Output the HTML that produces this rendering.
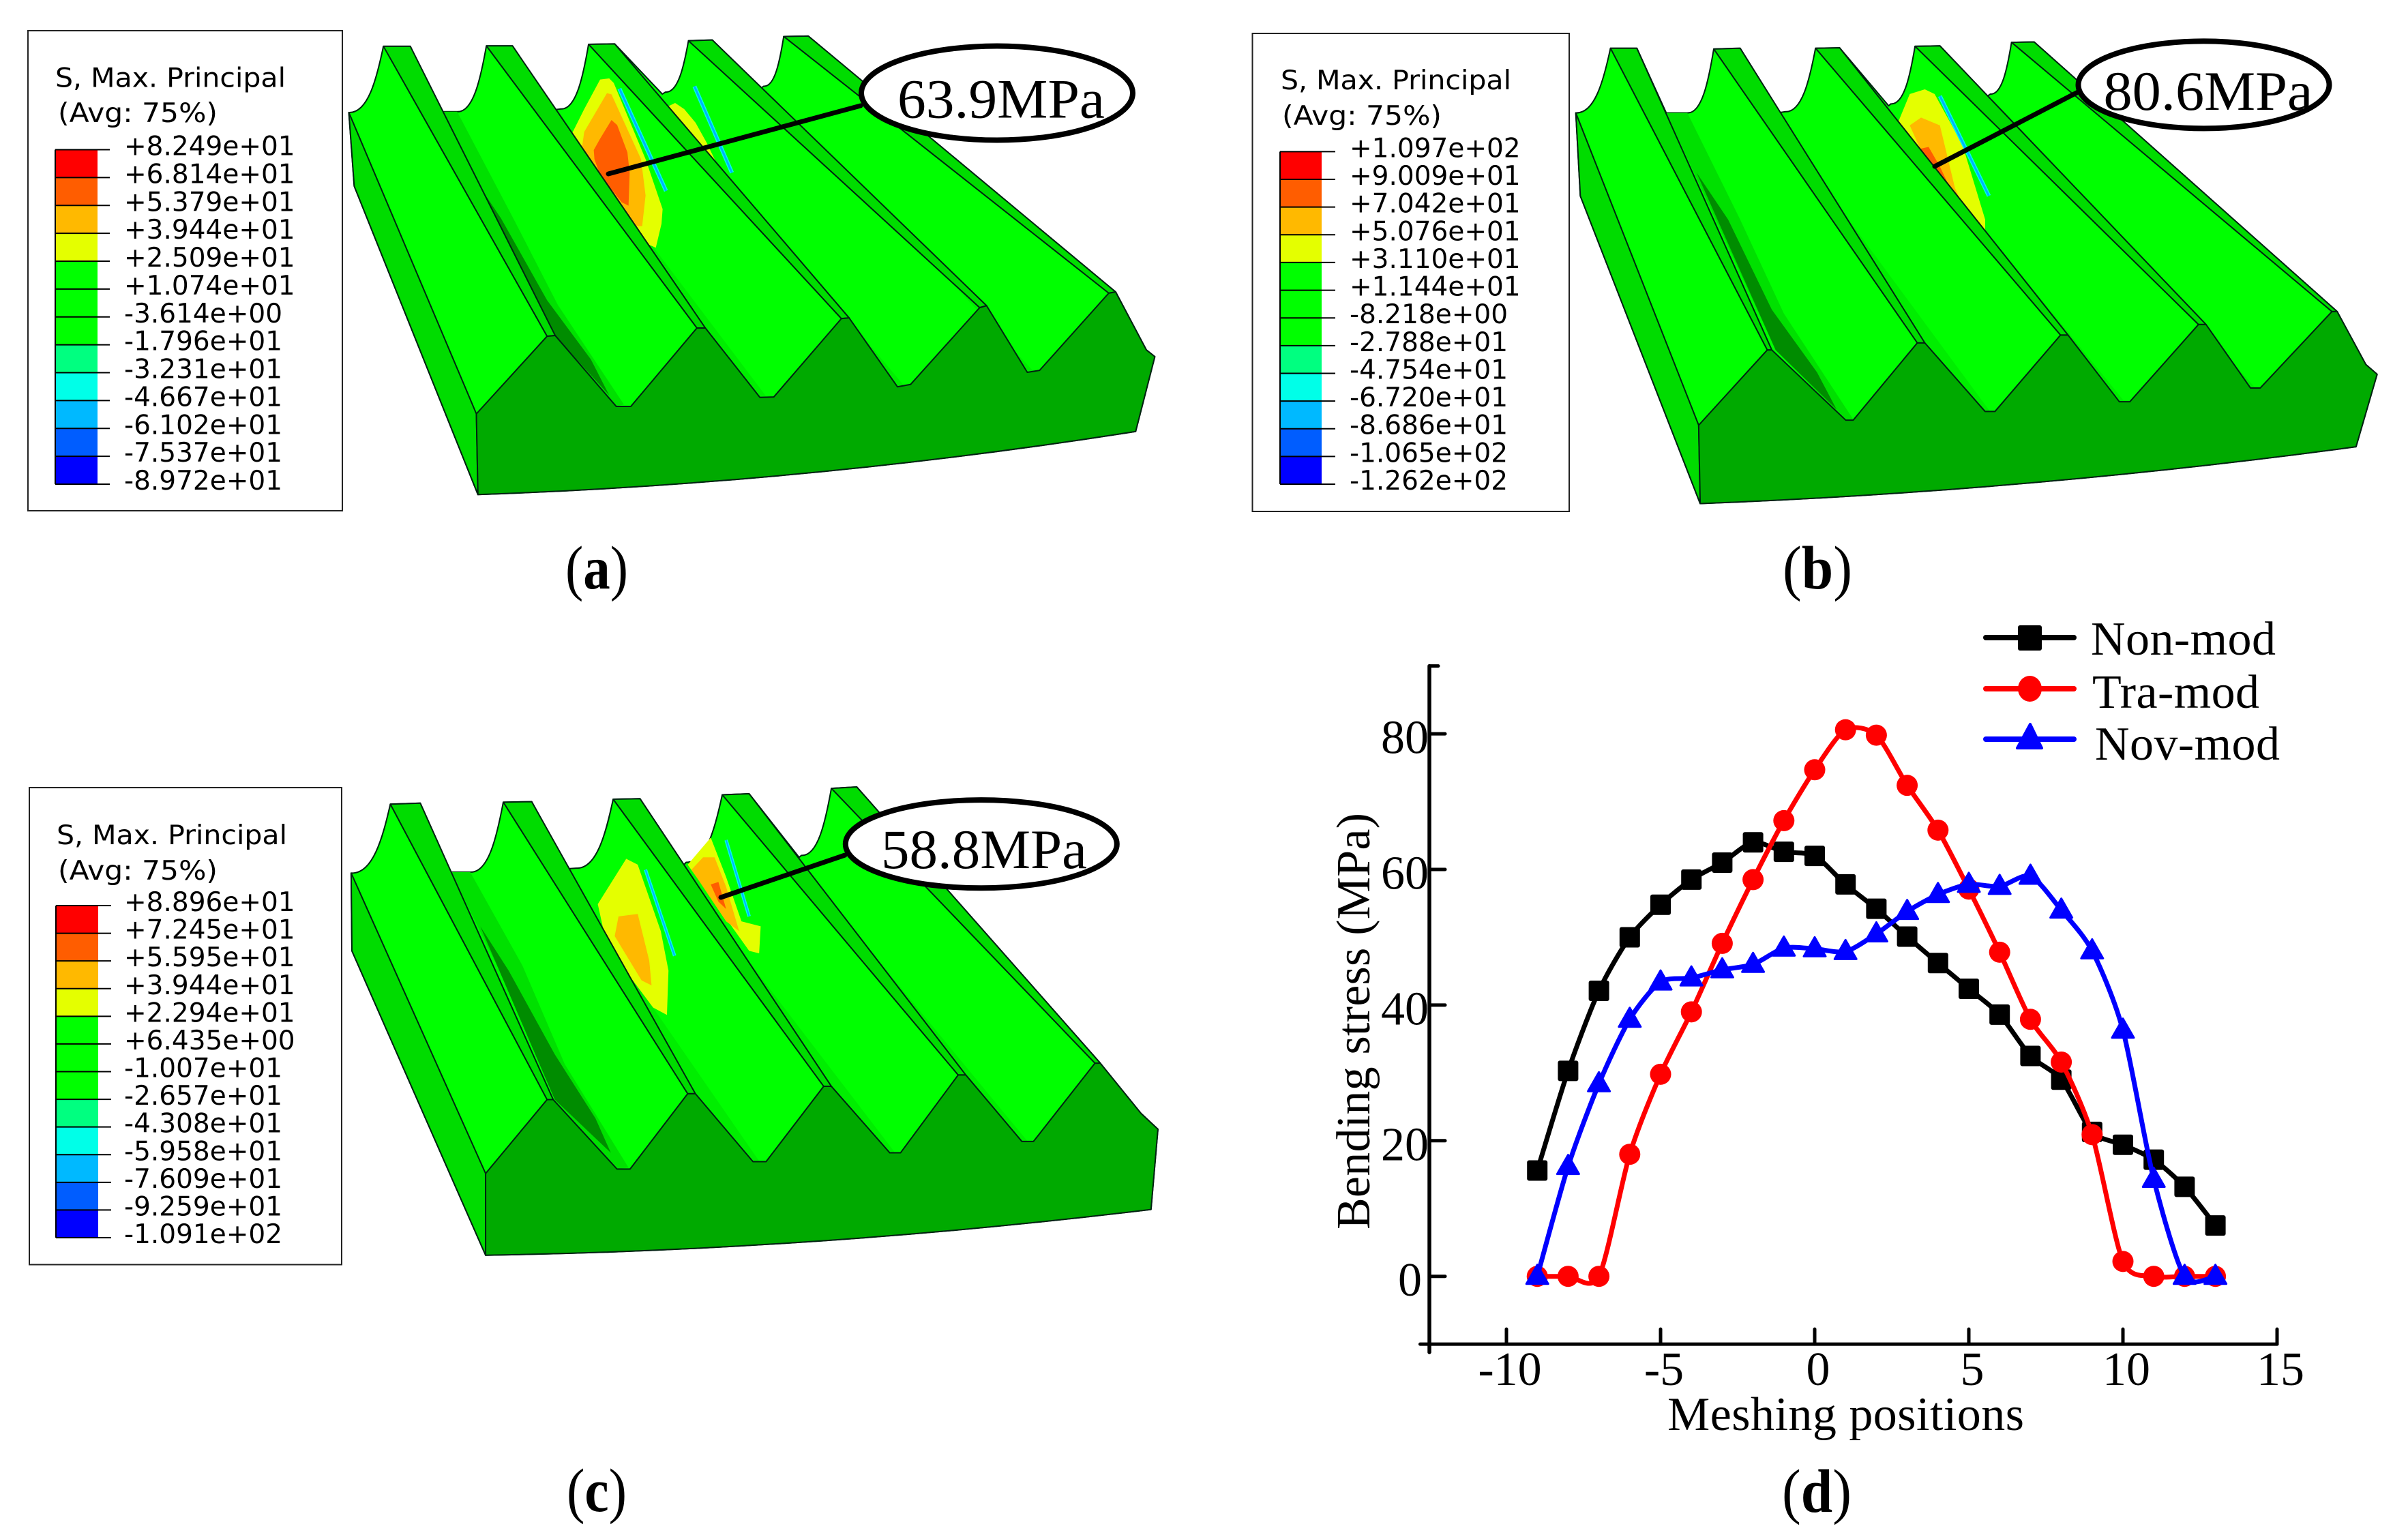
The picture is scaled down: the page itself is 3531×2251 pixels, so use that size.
<!DOCTYPE html>
<html lang="en">
<head>
<meta charset="utf-8">
<title>Bending stress contours and meshing position chart</title>
<style>
html,body{margin:0;padding:0;background:#fff;}
svg{display:block;}
text{font-family:"Liberation Serif",serif;fill:#000;}
.abq{font-family:"DejaVu Sans",sans-serif;font-size:39px;}
</style>
</head>
<body>
<svg id="fig" xmlns="http://www.w3.org/2000/svg" width="3531" height="2251" viewBox="0 0 3531 2251">
  <rect x="0" y="0" width="3531" height="2251" fill="#fff"/>
  <g id="panels"></g>
  <g id="chart"></g>
  <text x="875" y="863" font-size="90" text-anchor="middle" textLength="92" lengthAdjust="spacingAndGlyphs">(<tspan font-weight="bold">a</tspan>)</text>
  <text x="2665" y="863" font-size="90" text-anchor="middle" textLength="102" lengthAdjust="spacingAndGlyphs">(<tspan font-weight="bold">b</tspan>)</text>
  <text x="875" y="2216" font-size="90" text-anchor="middle" textLength="88" lengthAdjust="spacingAndGlyphs">(<tspan font-weight="bold">c</tspan>)</text>
  <text x="2664" y="2217" font-size="90" text-anchor="middle" textLength="102" lengthAdjust="spacingAndGlyphs">(<tspan font-weight="bold">d</tspan>)</text>
</svg>
<script>
// ---------- Chart data (panel d) ----------
var categories = [-9,-8,-7,-6,-5,-4,-3,-2,-1,0,1,2,3,4,5,6,7,8,9,10,11,12,13];
var nonMod = [15.6,30.3,42.1,50,54.8,58.5,61,64,62.6,62,57.8,54.2,50.1,46.2,42.4,38.6,32.5,29,21.3,19.4,17.2,13.2,7.5];
var traMod = [0,0,0,18,29.8,39,49.1,58.5,67.2,74.7,80.6,79.8,72.4,65.8,57.1,47.8,37.9,31.6,20.9,2.2,0,0,0];
var novMod = [0,16.2,28.4,37.9,43.4,44,45.2,46,48.4,48.3,47.9,50.5,53.8,56.3,57.8,57.5,59,54,48,36.3,14.3,0,0];
var xTickValues = [-10,-5,0,5,10,15];
var xTickLabels = ["-10","-5","0","5","10","15"];
var yTickValues = [0,20,40,60,80];
var yTickLabels = ["0","20","40","60","80"];

// ---------- Contour legend labels ----------
var legendLabelsA = ["+8.249e+01","+6.814e+01","+5.379e+01","+3.944e+01","+2.509e+01","+1.074e+01","-3.614e+00","-1.796e+01","-3.231e+01","-4.667e+01","-6.102e+01","-7.537e+01","-8.972e+01"];
var legendLabelsB = ["+1.097e+02","+9.009e+01","+7.042e+01","+5.076e+01","+3.110e+01","+1.144e+01","-8.218e+00","-2.788e+01","-4.754e+01","-6.720e+01","-8.686e+01","-1.065e+02","-1.262e+02"];
var legendLabelsC = ["+8.896e+01","+7.245e+01","+5.595e+01","+3.944e+01","+2.294e+01","+6.435e+00","-1.007e+01","-2.657e+01","-4.308e+01","-5.958e+01","-7.609e+01","-9.259e+01","-1.091e+02"];
var bandColors = ["#ff0000","#ff5d00","#ffb900","#e4ff00","#00ff00","#00ff00","#00ff00","#00ff80","#00ffe8","#00b9ff","#005dff","#0000ff"];

var NS = "http://www.w3.org/2000/svg";
function mk(parent, tag, attrs, txt){
  var e = document.createElementNS(NS, tag);
  for (var k in attrs) e.setAttribute(k, attrs[k]);
  if (txt !== undefined) e.textContent = txt;
  parent.appendChild(e);
  return e;
}
function pts(a){ return a.map(function(p){return p[0]+","+p[1];}).join(" "); }

// ---------- Gear illustrations (coordinates in panel-local units) ----------
var gearA = {
  id:"a", tf:"scale(1.1267 0.5747)",
  tips:[[499,118,534,118],[633,117,667,117],[766,113,800,112],[896,104,927,102],[1020,93,1052,92]],
  backRoots:[[454,287,454,287],[572,285,595,285],[722,280,730,278],[862,240,866,235],[990,225,994,220]],
  frontTips:[[712,858,722.5,856],[907,837,918,837],[1095,813,1105,811],[1275,785,1284,780],[1443,748,1452,745]],
  frontRoots:[[802,1037,821,1037],[989,1014,1007,1013],[1168,987,1185,981],[1337,950,1353,945]],
  leftTop:[620,1056], leftMid:[461,475], bottomLeft:[622,1262],
  right:[[1492,893],[1503,910],[1478,1101]], ctrl:[1050,1233],
  band:[[572,285],[595,285],[668,557],[726,778],[812,1032],[802,1037],[721,853],[639,557]],
  shadow:[[612,440],[652,557],[712,766],[769,917],[793,1009],[721,853]],
  contourTf:"translate(780 80) scale(0.3333)",
  contours:[
    ["#e4ff00",[[300,110],[340,105],[360,125],[500,460],[575,680],[570,745],[545,850],[500,830],[175,350],[230,240]]],
    ["#ffb900",[[330,170],[350,175],[480,460],[500,620],[485,755],[450,755],[220,410],[230,340]]],
    ["#ff5d00",[[350,288],[375,310],[420,430],[430,520],[425,665],[395,650],[300,530],[275,460],[272,420],[300,370]]],
    ["#e4ff00",[[595,230],[630,213],[670,240],[720,300],[770,390],[820,495],[800,480],[700,350]]]
  ],
  strips:[[385,150,590,600],[715,140,880,520]],
  stripOuter:6, stripInner:3,
  box:[41,45,502,749], bar:[81,143,161,219.5,710], labelX:182, labels:legendLabelsA,
  title:[81,127.6,85,179],
  ellipse:[1462,136.5,199,69], leader:[892,255,1262,155],
  value:"63.9MPa", valuePos:[1316,172.4,304]
};
var gearB = {
  id:"b", tf:"translate(1800 0) scale(1.1054 0.5747)",
  tips:[[508,123,543,123],[645,125,680,123],[780,123,812,122],[912,118,945,117],[1040,108,1070,107]],
  backRoots:[[462,288,462,288],[582,288,610,288],[733,287,740,285],[877,270,880,265],[1008,245,1012,240]],
  frontTips:[[716,893,722,893],[915,875,925,875],[1105,855,1115,855],[1288,828,1298,828],[1465,795,1472,795]],
  frontRoots:[[820,1072,830,1072],[1005,1050,1018,1050],[1183,1025,1197,1025],[1357,990,1370,990]],
  leftTop:[625,1085], leftMid:[468,500], bottomLeft:[627,1285],
  right:[[1510,930],[1525,955],[1497,1140]], ctrl:[1062,1253],
  band:[[582,288],[610,288],[680,560],[738,800],[830,1070],[820,1072],[727,893],[650,570]],
  shadow:[[622,440],[664,560],[722,790],[782,950],[808,1045],[727,893]],
  contourTf:"translate(1800 0) scale(1.1054 0.5747)",
  contours:[
    ["#e4ff00",[[905,240],[925,228],[938,240],[975,370],[1005,560],[1005,590],[890,310]]],
    ["#ffb900",[[905,320],[920,300],[945,320],[955,400],[965,480],[978,535],[940,470]]],
    ["#ff5d00",[[918,380],[930,375],[945,425],[958,478],[940,435]]]
  ],
  strips:[[945,245,1010,500]],
  stripOuter:6, stripInner:3,
  box:[1836.5,49,2301,750], bar:[1877,1938,1958,222.4,710], labelX:1979, labels:legendLabelsB,
  title:[1878,131,1880,183],
  ellipse:[3231.5,124.4,184,64], leader:[2837,244,3047,135],
  value:"80.6MPa", valuePos:[3084.5,161,307]
};
var gearC = {
  id:"c", tf:"translate(0 1120) scale(1.1267 0.7222)",
  tips:[[508,82,547,80],[655,78,692,77],[798,72,833,71],[940,63,975,61],[1082,50,1115,47]],
  backRoots:[[457,222,457,222],[587,220,612,220],[740,213,750,212],[890,205,893,200],[1040,190,1043,186]],
  frontTips:[[712,682,720,682],[895,670,905,670],[1072,655,1082,655],[1247,632,1257,632],[1425,608,1432,608]],
  frontRoots:[[803,823,820,823],[980,808,997,808],[1158,790,1172,790],[1330,767,1345,767]],
  leftTop:[632,832], leftMid:[458,380], bottomLeft:[632,998],
  right:[[1485,710],[1507,742],[1498,905]], ctrl:[1065,987],
  band:[[587,220],[612,220],[680,410],[735,610],[818,820],[803,823],[722,682],[650,420]],
  shadow:[[625,330],[662,420],[722,590],[775,720],[795,790],[722,682]],
  contourTf:"translate(0 1120) scale(1.1267 0.7222)",
  contours:[
    ["#e4ff00",[[815,193],[830,205],[860,340],[870,420],[868,510],[850,495],[790,370],[778,285]]],
    ["#ffb900",[[805,310],[830,305],[845,400],[848,450],[835,440],[800,350]]],
    ["#e4ff00",[[925,150],[945,230],[965,320],[990,330],[988,385],[975,380],[895,205]]],
    ["#ffb900",[[915,190],[930,190],[945,250],[962,340],[945,320],[900,215]]],
    ["#ff5d00",[[925,245],[935,240],[945,295],[935,280]]]
  ],
  strips:[[840,215,878,390],[945,155,975,310]],
  stripOuter:5, stripInner:2,
  box:[43,1155,501,1854.5], bar:[82,144,163,1328,1815], labelX:182, labels:legendLabelsC,
  title:[83,1238,85,1290],
  ellipse:[1438.8,1237.7,199,64.6], leader:[1057,1316,1239,1254],
  value:"58.8MPa", valuePos:[1292,1273,302]
};

function drawGear(g){
  var root = document.getElementById("panels");
  var wrap = mk(root, "g", {});
  
  

  var model = mk(wrap, "g", {transform:g.tf});
  
  

  var ve = {"vector-effect":"non-scaling-stroke","stroke":"#021","stroke-width":"2","stroke-linejoin":"round"};
  function st(extra){ var o={}; for(var k in ve)o[k]=ve[k]; for(var j in extra)o[j]=extra[j]; return o; }

  // silhouette
  var lf = g.backRoots[0];
  var d = "M"+lf[0]+" "+lf[1];
  for (var i=0;i<g.tips.length;i++){
    var br = g.backRoots[i], t = g.tips[i];
    var sx = br[2], sy = br[3];
    var dx = t[0]-sx, dy = t[1]-sy;
    d += " L"+sx+" "+sy;
    d += " C"+(sx+dx*0.55)+" "+(sy+2)+" "+(sx+dx*0.8)+" "+(sy+dy*0.5)+" "+t[0]+" "+t[1];
    d += " L"+t[2]+" "+t[3];
    if (i<g.tips.length-1) d += " L"+g.backRoots[i+1][0]+" "+g.backRoots[i+1][1];
  }
  var ft = g.frontTips[g.frontTips.length-1];
  d += " L"+ft[2]+" "+ft[3];
  g.right.forEach(function(p){ d += " L"+p[0]+" "+p[1]; });
  d += " Q"+g.ctrl[0]+" "+g.ctrl[1]+" "+g.bottomLeft[0]+" "+g.bottomLeft[1];
  d += " L"+g.leftMid[0]+" "+g.leftMid[1]+" Z";
  var body = mk(model, "path", st({d:d, fill:"#00ff00"}));
  
  

  // left side strip
  var side = mk(model, "polygon", st({points:pts([[lf[0],lf[1]],g.leftMid,g.bottomLeft,g.leftTop]), fill:"#00dc00"}));
  
  

  // subtle flank shading close to each front root
  for (var r=1;r<g.frontRoots.length;r++){
    var f = g.frontRoots[r], ftp = g.frontTips[r];
    var bk = g.tips[r];
    var mx = ftp[2]+(bk[2]-ftp[2])*0.45, my = ftp[3]+(bk[3]-ftp[3])*0.45;
    mk(model, "polygon", {points:pts([[mx,my],[ftp[2],ftp[3]],[f[0],f[1]],[(f[0]+f[2])/2,(f[1]+f[3])/2]]), fill:"#00ee00"});
  }
  // shaded band and dark shadow at the first root
  var band = mk(model, "polygon", {points:pts(g.band), fill:"#00e000"});
  
  
  var shadow = mk(model, "polygon", {points:pts(g.shadow), fill:"#008c00"});
  
  

  // contours
  var cg = mk(wrap, "g", {transform:g.contourTf});
  
  
  g.contours.forEach(function(c){
    mk(cg, "polygon", {points:pts(c[1]), fill:c[0]});
  });
  g.strips.forEach(function(s){
    mk(cg, "line", {x1:s[0],y1:s[1],x2:s[2],y2:s[3],stroke:"#00ffe8","stroke-width":g.stripOuter,"vector-effect":"non-scaling-stroke"});
    mk(cg, "line", {x1:s[0],y1:s[1],x2:s[2],y2:s[3],stroke:"#00b0ff","stroke-width":g.stripInner,"vector-effect":"non-scaling-stroke"});
  });

  // tooth lands (drawn over contours so the edge stays visible)
  var lands = mk(wrap, "g", {transform:g.tf});
  for (var n=0;n<g.tips.length;n++){
    var tp = g.tips[n], fp = g.frontTips[n];
    var land = mk(lands, "polygon", st({points:pts([[tp[0],tp[1]],[tp[2],tp[3]],[fp[2],fp[3]],[fp[0],fp[1]]]), fill:"#00dc00"}));
    
    
  }
  // front face
  var fr = [g.leftTop];
  for (var q=0;q<g.frontTips.length;q++){
    fr.push([g.frontTips[q][0],g.frontTips[q][1]]);
    fr.push([g.frontTips[q][2],g.frontTips[q][3]]);
    if (q<g.frontRoots.length){
      fr.push([g.frontRoots[q][0],g.frontRoots[q][1]]);
      fr.push([g.frontRoots[q][2],g.frontRoots[q][3]]);
    }
  }
  var fd = "M"+fr.map(function(p){return p[0]+" "+p[1];}).join(" L");
  g.right.forEach(function(p){ fd += " L"+p[0]+" "+p[1]; });
  fd += " Q"+g.ctrl[0]+" "+g.ctrl[1]+" "+g.bottomLeft[0]+" "+g.bottomLeft[1]+" Z";
  var face = mk(lands, "path", st({d:fd, fill:"#00aa00"}));
  
  

  // Contour legend
  var lg = mk(wrap, "g", {});
  
  
  var bx = g.box;
  var frame = mk(lg, "rect", {x:bx[0],y:bx[1],width:bx[2]-bx[0],height:bx[3]-bx[1],fill:"#fff",stroke:"#222","stroke-width":"2"});
  
  
  var t1 = mk(lg, "text", {"class":"abq",x:g.title[0],y:g.title[1],textLength:"338",lengthAdjust:"spacingAndGlyphs"}, "S, Max. Principal");
  
  
  var t2 = mk(lg, "text", {"class":"abq",x:g.title[2],y:g.title[3],textLength:"234",lengthAdjust:"spacingAndGlyphs"}, "(Avg: 75%)");
  
  
  var h = (g.bar[4]-g.bar[3])/bandColors.length;
  bandColors.forEach(function(c,i){
    var band2 = mk(lg, "rect", {x:g.bar[0],y:g.bar[3]+i*h,width:g.bar[1]-g.bar[0],height:h,fill:c});
    
    
  });
  g.labels.forEach(function(l,i){
    var y = g.bar[3]+i*h;
    mk(lg, "line", {x1:g.bar[0],x2:g.bar[2],y1:y,y2:y,stroke:"#000","stroke-width":"2"});
    var lab = mk(lg, "text", {"class":"abq",x:g.labelX,y:y+8}, l);
    
    
  });
  mk(lg, "line", {x1:g.bar[0],x2:g.bar[0],y1:g.bar[3],y2:g.bar[4],stroke:"#000","stroke-width":"2"});

  // Callout
  var cal = mk(wrap, "g", {});
  
  
  var ln = g.leader;
  mk(cal, "line", {x1:ln[0],y1:ln[1],x2:ln[2],y2:ln[3],stroke:"#000","stroke-width":"7","stroke-linecap":"round"});
  var e = g.ellipse;
  mk(cal, "ellipse", {cx:e[0],cy:e[1],rx:e[2],ry:e[3],fill:"#fff",stroke:"#000","stroke-width":"8"});
  var vt = mk(cal, "text", {x:g.valuePos[0],y:g.valuePos[1],"font-size":"82",textLength:g.valuePos[2],lengthAdjust:"spacingAndGlyphs"}, g.value);
  
  
}
drawGear(gearA);
drawGear(gearB);
drawGear(gearC);

// ---------- Chart ----------
function xScale(v){ return 2661 + 45.2*v; }
function yScale(v){ return 1871.7 - 9.945*v; }
var chart = document.getElementById("chart");

function splinePath(xs, ys){
  var P = xs.map(function(x,i){ return [xScale(x), yScale(ys[i])]; });
  var d = "M"+P[0][0]+" "+P[0][1];
  var k = 0.13;
  for (var i=0;i<P.length-1;i++){
    var p0 = P[Math.max(0,i-1)], p1 = P[i], p2 = P[i+1], p3 = P[Math.min(P.length-1,i+2)];
    var c1x = p1[0]+(p2[0]-p0[0])*k, c1y = p1[1]+(p2[1]-p0[1])*k;
    var c2x = p2[0]-(p3[0]-p1[0])*k, c2y = p2[1]-(p3[1]-p1[1])*k;
    d += " C"+c1x+" "+c1y+" "+c2x+" "+c2y+" "+p2[0]+" "+p2[1];
  }
  return d;
}
function squareMark(g,x,y,s,c){
  return mk(g,"rect",{x:x-s/2,y:y-s/2,width:s,height:s,rx:3,fill:c});
}
function circleMark(g,x,y,r,c){
  return mk(g,"circle",{cx:x,cy:y,r:r,fill:c});
}
function triMark(g,x,y,w,up,dn,c){
  return mk(g,"polygon",{points:(x)+","+(y-up)+" "+(x+w/2)+","+(y+dn)+" "+(x-w/2)+","+(y+dn),fill:c,stroke:c,"stroke-width":"3","stroke-linejoin":"round"});
}

// Axes
var axes = mk(chart,"g",{stroke:"#000","stroke-width":"5","stroke-linecap":"round",fill:"none"});


var yAxis = mk(axes,"line",{x1:xScale(-12.5),x2:xScale(-12.5),y1:yScale(90),y2:yScale(-11.2),"stroke-width":"5.5"});


var xAxis = mk(axes,"line",{x1:xScale(-12.8),x2:xScale(15),y1:yScale(-10),y2:yScale(-10)});


mk(axes,"line",{x1:xScale(-12.5),x2:xScale(-12.5)+13,y1:yScale(90),y2:yScale(90)});

xTickValues.forEach(function(v,i){
  var tk = mk(axes,"line",{x1:xScale(v),x2:xScale(v),y1:yScale(-10),y2:yScale(-10)-22});
  
  
  var lb = mk(chart,"text",{x:xScale(v)+5,y:2031,"font-size":"70","text-anchor":"middle"},xTickLabels[i]);
  
  
});
yTickValues.forEach(function(v,i){
  var tk = mk(axes,"line",{x1:xScale(-12.5),x2:xScale(-12.5)+23,y1:yScale(v),y2:yScale(v)});
  
  
  var lb = mk(chart,"text",{x:yTickLabels[i].length>1?2095:2085,y:yScale(v)+28.5,"font-size":"70","text-anchor":"end"},yTickLabels[i]);
  
  
});

var xTitle = mk(chart,"text",{x:2445,y:2097,"font-size":"70",textLength:"523",lengthAdjust:"spacing"},"Meshing positions");


var yTitle = mk(chart,"text",{transform:"translate(2008 1803) rotate(-90)",x:0,y:0,"font-size":"70",textLength:"611",lengthAdjust:"spacing"},"Bending stress (MPa)");



// Series
var gBlack = mk(chart,"g",{});


var lineBlack = mk(gBlack,"path",{d:splinePath(categories,nonMod),fill:"none",stroke:"#000","stroke-width":"7"});


categories.forEach(function(c,i){
  var m = squareMark(gBlack,xScale(c),yScale(nonMod[i]),30,"#000");
  
  
});

var gRed = mk(chart,"g",{});


var lineRed = mk(gRed,"path",{d:splinePath(categories,traMod),fill:"none",stroke:"#f00","stroke-width":"7"});


categories.forEach(function(c,i){
  var m = circleMark(gRed,xScale(c),yScale(traMod[i]),15.5,"#f00");
  
  
});

var gBlue = mk(chart,"g",{});


var lineBlue = mk(gBlue,"path",{d:splinePath(categories,novMod),fill:"none",stroke:"#00f","stroke-width":"7"});


categories.forEach(function(c,i){
  var m = triMark(gBlue,xScale(c),yScale(novMod[i]),32,17,11,"#00f");
  
  
});

// Legend
var leg = mk(chart,"g",{});



var e1 = mk(leg,"g",{});


mk(e1,"line",{x1:2912,x2:3041,y1:935,y2:935,stroke:"#000","stroke-width":"8","stroke-linecap":"round"});
mk(e1,"rect",{x:2959,y:917,width:35,height:37,rx:3,fill:"#000"});
mk(e1,"text",{x:3066,y:960,"font-size":"70",textLength:"271",lengthAdjust:"spacing"},"Non-mod");

var e2 = mk(leg,"g",{});


mk(e2,"line",{x1:2912,x2:3041,y1:1010,y2:1010,stroke:"#f00","stroke-width":"8","stroke-linecap":"round"});
mk(e2,"ellipse",{cx:2976.5,cy:1010,rx:17.5,ry:19,fill:"#f00"});
mk(e2,"text",{x:3068,y:1038,"font-size":"70",textLength:"245",lengthAdjust:"spacing"},"Tra-mod");

var e3 = mk(leg,"g",{});


mk(e3,"line",{x1:2912,x2:3041,y1:1084,y2:1084,stroke:"#00f","stroke-width":"8","stroke-linecap":"round"});
mk(e3,"polygon",{points:"2977,1062 2994,1097 2958,1097",fill:"#00f",stroke:"#00f","stroke-width":"4","stroke-linejoin":"round"});
mk(e3,"text",{x:3072,y:1114,"font-size":"70",textLength:"271",lengthAdjust:"spacing"},"Nov-mod");
</script>
</body>
</html>
